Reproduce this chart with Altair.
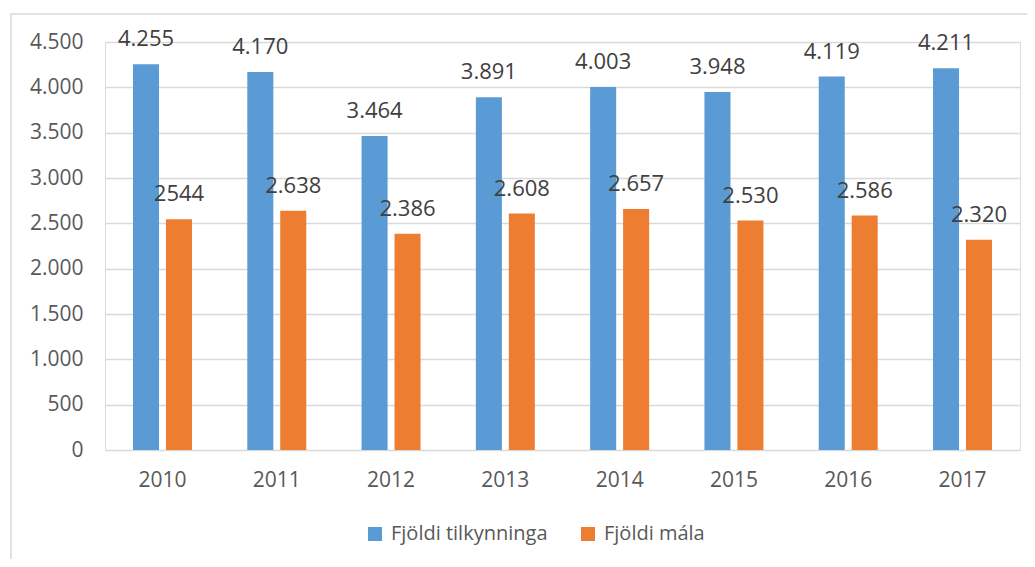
import altair as alt
import pandas as pd

years = ["2010", "2011", "2012", "2013", "2014", "2015", "2016", "2017"]
series = ["Fjöldi tilkynninga", "Fjöldi mála"]
tilkynningar = [4255, 4170, 3464, 3891, 4003, 3948, 4119, 4211]
mal = [2544, 2638, 2386, 2608, 2657, 2530, 2586, 2320]
tilk_labels = ["4.255", "4.170", "3.464", "3.891", "4.003", "3.948", "4.119", "4.211"]
mal_labels = ["2544", "2.638", "2.386", "2.608", "2.657", "2.530", "2.586", "2.320"]
y_ticks = [0, 500, 1000, 1500, 2000, 2500, 3000, 3500, 4000, 4500]

rows = []
for i, yr in enumerate(years):
    rows.append({"year": yr, "series": series[0], "value": tilkynningar[i], "label": tilk_labels[i]})
    rows.append({"year": yr, "series": series[1], "value": mal[i], "label": mal_labels[i]})
df = pd.DataFrame(rows)

FONT = "Open Sans"
TICK_COLOR = "#595959"

x_enc = alt.X(
    "year:N", sort=years, title=None,
    scale=alt.Scale(paddingInner=0.484, paddingOuter=0.245),
    axis=alt.Axis(labelAngle=0, ticks=False, domain=False, labelPadding=19,
                  labelFontSize=21, labelColor=TICK_COLOR, labelFont=FONT,
                  grid=False),
)
xo_enc = alt.XOffset("series:N", sort=series,
                     scale=alt.Scale(paddingInner=0.21, paddingOuter=0))
y_enc = alt.Y(
    "value:Q", title=None,
    scale=alt.Scale(domain=[0, 4500], nice=False),
    axis=alt.Axis(values=y_ticks,
                  labelExpr="replace(format(datum.value, ','), ',', '.')",
                  ticks=False, domain=False, labelPadding=22,
                  labelFontSize=21, labelColor=TICK_COLOR, labelFont=FONT,
                  grid=True, gridColor="#d9d9d9", gridWidth=1.5),
)

bars = alt.Chart(df).mark_bar().encode(
    x=x_enc,
    xOffset=xo_enc,
    y=y_enc,
    color=alt.Color(
        "series:N", sort=series,
        scale=alt.Scale(domain=series, range=["#5B9BD5", "#ED7D31"]),
        legend=alt.Legend(
            title=None, orient="none", legendX=260, legendY=482,
            direction="horizontal", symbolType="square", symbolSize=196,
            symbolStrokeWidth=0, labelFontSize=20, labelFont=FONT,
            labelColor=TICK_COLOR, columnPadding=30, labelOffset=6, padding=0,
        ),
    ),
)

labels = alt.Chart(df).mark_text(
    dy=-25, baseline="middle", align="center", fontSize=22, font=FONT, color="#404040"
).encode(
    x=alt.X("year:N", sort=years),
    xOffset=alt.XOffset("series:N", sort=series),
    y=alt.Y("value:Q"),
    text="label:N",
)

frame = alt.Chart(pd.DataFrame({"a": [0]})).mark_rect(
    fill=None, stroke="#d9d9d9", strokeWidth=1.5
).encode(
    x=alt.value(-94), x2=alt.value(980), y=alt.value(-28), y2=alt.value(650)
)

chart = alt.layer(frame, bars, labels).properties(
    width=915, height=408,
    autosize=alt.AutoSizeParams(type="none"),
    padding={"left": 97, "top": 34, "right": 7, "bottom": 109},
).configure_view(
    fill="#f2f2f2", stroke=None
).configure(background="white")

chart.save("out.html", embed_options={"renderer": "svg", "actions": False})
